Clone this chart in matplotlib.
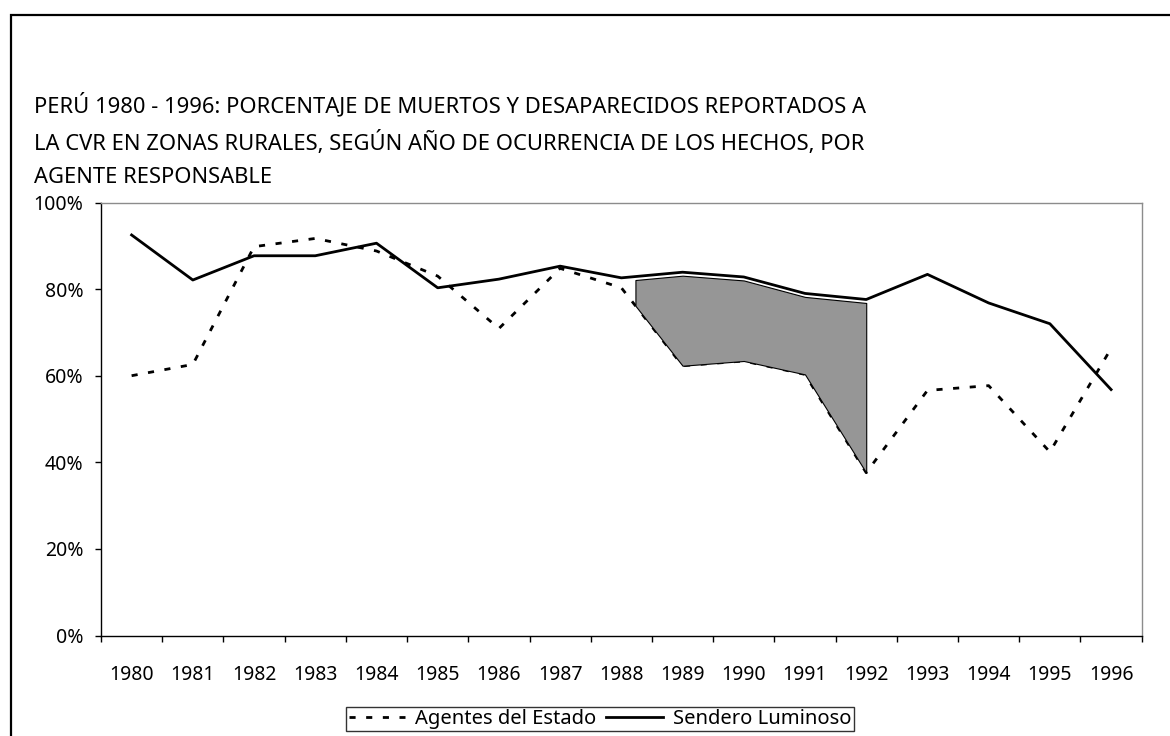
import numpy as np
import matplotlib
matplotlib.use("Agg")
import matplotlib.pyplot as plt
from matplotlib.patches import Rectangle
from matplotlib.ticker import FixedLocator, PercentFormatter

plt.rcParams['font.family'] = ['Noto Sans', 'DejaVu Sans']

years = [1980, 1981, 1982, 1983, 1984, 1985, 1986, 1987, 1988,
         1989, 1990, 1991, 1992, 1993, 1994, 1995, 1996]
agentes = [60.0, 62.6, 89.8, 91.7, 88.8, 83.0, 70.9, 84.8, 80.3,
           62.3, 63.4, 60.3, 37.6, 56.6, 57.7, 42.4, 66.3]
sendero = [92.5, 82.1, 87.7, 87.7, 90.6, 80.3, 82.3, 85.3, 82.6,
           83.9, 82.8, 79.0, 77.6, 83.4, 76.8, 72.0, 56.8]
# shaded stretch between the two series
shade_years = [1988.23, 1989, 1990, 1991, 1992]

title = ("PERÚ 1980 - 1996: PORCENTAJE DE MUERTOS Y DESAPARECIDOS REPORTADOS A\n"
         "LA CVR EN ZONAS RURALES, SEGÚN AÑO DE OCURRENCIA DE LOS HECHOS, POR\n"
         "AGENTE RESPONSABLE")

fig = plt.figure(figsize=(11.7, 7.36), dpi=100)
ax = fig.add_axes([101 / 1170, 1 - 635.5 / 736, 1040.7 / 1170, 433 / 736])

# outer frame (only top and left show)
fig.patches.append(Rectangle((11 / 1170, -0.1), 1.2, 1 - 15 / 736 + 0.1,
                             transform=fig.transFigure, fill=False,
                             edgecolor="black", linewidth=1.6))

fig.text(34 / 1170, 1 - 93 / 736, title, fontsize=15.8, va="top", ha="left",
         linespacing=1.72)

ax.plot(years, agentes, color="black", linewidth=2.0, dashes=(2.2, 3.8),
        label="Agentes del Estado")
ax.plot(years, sendero, color="black", linewidth=2.0, label="Sendero Luminoso")

lo = np.interp(shade_years, years, agentes)
hi = np.interp(shade_years, years, sendero) - 0.8
ax.fill_between(shade_years, lo, hi, facecolor="#969696", edgecolor="black",
                linewidth=0.8, zorder=3)

ax.set_xlim(1979.5, 1996.5)
ax.set_ylim(0, 100)
ax.set_xticks(years)
ax.set_xticklabels([str(y) for y in years])
ax.xaxis.set_minor_locator(FixedLocator(np.arange(1979.5, 1997, 1)))
ax.tick_params(axis="x", which="major", length=0, pad=21, labelsize=14)
ax.tick_params(axis="x", which="minor", length=4.5, width=1, direction="out")
ax.set_yticks([0, 20, 40, 60, 80, 100])
ax.yaxis.set_major_formatter(PercentFormatter(decimals=0))
ax.tick_params(axis="y", length=4.5, width=1, direction="out", pad=8, labelsize=14)

ax.spines["top"].set_color("#8c8c8c")
ax.spines["right"].set_color("#8c8c8c")
ax.spines["left"].set_color("black")
ax.spines["bottom"].set_color("black")
for s in ax.spines.values():
    s.set_linewidth(1.0)

leg = fig.legend(loc="center", bbox_to_anchor=(600 / 1170, 1 - 719 / 736),
                 ncol=2, frameon=True, fancybox=False, fontsize=14.5,
                 handlelength=2.8, columnspacing=0.5, handletextpad=0.5,
                 borderpad=0.12, borderaxespad=0)
leg.get_frame().set_edgecolor("black")
leg.get_frame().set_linewidth(1.0)

fig.savefig("out.png", dpi=100)
